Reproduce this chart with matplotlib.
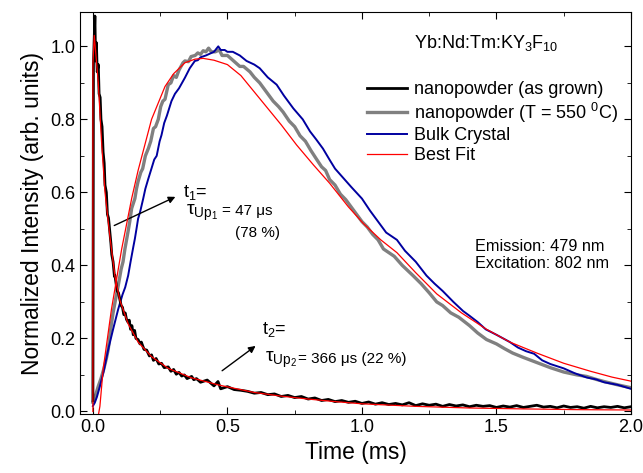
import matplotlib
matplotlib.use("Agg")
import matplotlib.pyplot as plt
from matplotlib.ticker import MultipleLocator

plt.rcParams['font.family'] = ['Liberation Sans', 'DejaVu Sans']
plt.rcParams['mathtext.fontset'] = 'custom'
plt.rcParams['mathtext.rm'] = 'Liberation Sans'
plt.rcParams['mathtext.it'] = 'Liberation Sans:italic'

# nanopowder (as grown)
t_grown = [0.0, 0.002, 0.0074, 0.010, 0.013, 0.016, 0.020, 0.023, 0.027, 0.030, 0.034,
           0.038, 0.042, 0.045, 0.050, 0.054, 0.058, 0.063, 0.067, 0.070, 0.075, 0.080,
           0.082, 0.086, 0.090, 0.095, 0.100, 0.105, 0.110, 0.115, 0.120, 0.125, 0.131,
           0.135, 0.140, 0.145, 0.150, 0.155, 0.160, 0.168, 0.175, 0.180, 0.190, 0.200,
           0.210, 0.218, 0.225, 0.235, 0.245, 0.255, 0.265, 0.280, 0.290, 0.300, 0.310,
           0.320, 0.330, 0.340, 0.350, 0.367, 0.375, 0.385,
           0.400, 0.425, 0.450, 0.465, 0.475, 0.500, 0.525, 0.550, 0.575, 0.600, 0.625,
           0.650, 0.675, 0.700, 0.725, 0.750, 0.775, 0.800, 0.825, 0.850, 0.875, 0.900,
           0.925, 0.950, 0.975, 1.000, 1.025, 1.050, 1.075, 1.100, 1.125, 1.150, 1.175,
           1.200, 1.225, 1.250, 1.275, 1.300, 1.325, 1.350, 1.375, 1.400, 1.425, 1.450,
           1.475, 1.500, 1.525, 1.550, 1.575, 1.600, 1.625, 1.650, 1.675, 1.700, 1.725,
           1.750, 1.775, 1.800, 1.825, 1.850, 1.875, 1.900, 1.925, 1.950, 1.975, 2.000]
y_grown = [0.03, 0.95, 1.083, 0.96, 1.01, 0.93, 0.95, 0.87, 0.86, 0.80, 0.78,
           0.71, 0.68, 0.62, 0.60, 0.54, 0.53, 0.49, 0.46, 0.43, 0.41, 0.37,
           0.372, 0.35, 0.33, 0.325, 0.308, 0.29, 0.285, 0.265, 0.27, 0.252, 0.244,
           0.25, 0.225, 0.235, 0.21, 0.222, 0.20, 0.197, 0.185, 0.19, 0.17, 0.168,
           0.152, 0.155, 0.14, 0.145, 0.13, 0.132, 0.12, 0.122, 0.11, 0.115, 0.102,
           0.107, 0.097, 0.10, 0.09, 0.096, 0.087, 0.09,
           0.080, 0.086, 0.070, 0.082, 0.062, 0.068, 0.060, 0.058, 0.055, 0.050, 0.052,
           0.046, 0.048, 0.041, 0.044, 0.038, 0.041, 0.034, 0.037, 0.030, 0.033, 0.027,
           0.030, 0.025, 0.028, 0.022, 0.026, 0.020, 0.024, 0.019, 0.022, 0.018, 0.024,
           0.016, 0.021, 0.017, 0.020, 0.014, 0.019, 0.015, 0.018, 0.013, 0.017, 0.014,
           0.016, 0.011, 0.015, 0.012, 0.016, 0.011, 0.014, 0.017, 0.012, 0.014, 0.010,
           0.015, 0.011, 0.013, 0.009, 0.014, 0.010, 0.013, 0.011, 0.014, 0.010, 0.013]

# nanopowder (T = 550 C)
t_550 = [0.0, 0.01, 0.02, 0.03, 0.04, 0.05, 0.057, 0.065, 0.075, 0.085, 0.094, 0.105,
         0.112, 0.119, 0.13, 0.137, 0.144, 0.156, 0.162, 0.168, 0.178, 0.185, 0.195, 0.206,
         0.215, 0.225, 0.233, 0.243, 0.252, 0.26, 0.268, 0.28, 0.29, 0.30, 0.31, 0.32,
         0.335, 0.342, 0.355, 0.365, 0.38, 0.39, 0.40, 0.41, 0.42, 0.43, 0.44, 0.455,
         0.47, 0.48, 0.50, 0.52, 0.546, 0.56, 0.584, 0.60, 0.62, 0.64, 0.67, 0.69, 0.707,
         0.73, 0.75, 0.77, 0.79, 0.81, 0.832, 0.85, 0.865, 0.88, 0.90, 0.92, 0.94, 0.96,
         0.98, 1.0, 1.02, 1.04, 1.06, 1.08, 1.10, 1.12, 1.15, 1.19, 1.22, 1.25, 1.278,
         1.30, 1.33, 1.36, 1.40, 1.43, 1.463, 1.50, 1.53, 1.56, 1.60, 1.65, 1.70, 1.75,
         1.80, 1.835, 1.87, 1.90, 1.95, 2.0]
y_550 = [0.025, 0.045, 0.069, 0.09, 0.115, 0.145, 0.17, 0.22, 0.27, 0.31, 0.344, 0.39,
         0.41, 0.445, 0.49, 0.52, 0.556, 0.583, 0.61, 0.63, 0.655, 0.665, 0.70, 0.72,
         0.74, 0.775, 0.78, 0.80, 0.835, 0.85, 0.855, 0.895, 0.90, 0.92, 0.915, 0.935,
         0.955, 0.96, 0.958, 0.972, 0.975, 0.982, 0.978, 0.988, 0.985, 0.995, 0.985, 0.985,
         0.99, 0.975, 0.975, 0.962, 0.945, 0.945, 0.93, 0.915, 0.90, 0.88, 0.85, 0.835, 0.82,
         0.795, 0.78, 0.755, 0.74, 0.715, 0.69, 0.67, 0.66, 0.635, 0.62, 0.595, 0.58, 0.56,
         0.54, 0.52, 0.505, 0.485, 0.47, 0.445, 0.435, 0.425, 0.40, 0.372, 0.35, 0.325, 0.30,
         0.29, 0.27, 0.258, 0.235, 0.215, 0.197, 0.185, 0.172, 0.16, 0.148, 0.134, 0.12, 0.108,
         0.10, 0.096, 0.088, 0.082, 0.073, 0.065]

# Bulk Crystal
t_bulk = [0.0, 0.007, 0.015, 0.026, 0.04, 0.057, 0.075, 0.094, 0.11, 0.12, 0.131, 0.14,
          0.15, 0.156, 0.162, 0.168, 0.175, 0.187, 0.195, 0.205, 0.218, 0.228, 0.237, 0.248,
          0.255, 0.265, 0.275, 0.292, 0.305, 0.32, 0.342, 0.36, 0.379, 0.39, 0.40, 0.42,
          0.435, 0.45, 0.466, 0.475, 0.49, 0.50, 0.52, 0.546, 0.571, 0.60, 0.62, 0.65,
          0.683, 0.71, 0.745, 0.78, 0.807, 0.83, 0.855, 0.88, 0.90, 0.93, 0.96, 1.0, 1.03,
          1.06, 1.09, 1.13, 1.16, 1.2, 1.24, 1.27, 1.3, 1.34, 1.376, 1.4, 1.43, 1.46, 1.5,
          1.55, 1.58, 1.61, 1.64, 1.67, 1.7, 1.75, 1.79, 1.835, 1.87, 1.9, 1.95, 2.0]
y_bulk = [0.015, 0.024, 0.04, 0.069, 0.11, 0.17, 0.225, 0.28, 0.32, 0.34, 0.372, 0.41,
          0.45, 0.473, 0.50, 0.528, 0.545, 0.583, 0.61, 0.635, 0.666, 0.69, 0.70, 0.74,
          0.757, 0.79, 0.81, 0.85, 0.87, 0.885, 0.914, 0.94, 0.96, 0.962, 0.97, 0.975,
          0.98, 0.985, 1.0, 0.99, 0.99, 0.985, 0.985, 0.975, 0.96, 0.95, 0.94, 0.915,
          0.895, 0.865, 0.83, 0.80, 0.767, 0.745, 0.72, 0.689, 0.665, 0.64, 0.615, 0.583, 0.55,
          0.52, 0.49, 0.47, 0.44, 0.41, 0.372, 0.35, 0.33, 0.30, 0.275, 0.262, 0.245, 0.225, 0.21,
          0.19, 0.175, 0.165, 0.158, 0.14, 0.13, 0.118, 0.105, 0.093, 0.088, 0.08, 0.073, 0.062]

# Best fit, decay of as-grown nanopowder
t_fit1 = [0.0, 0.0, 0.005, 0.02, 0.032, 0.045, 0.063, 0.082, 0.10, 0.131, 0.168, 0.218,
          0.28, 0.367, 0.47, 0.60, 0.70, 0.80, 0.90, 1.00, 1.20, 1.40, 1.60, 1.80, 2.00]
y_fit1 = [0.0, 0.95, 1.03, 0.90, 0.74, 0.60, 0.48, 0.37, 0.305, 0.24, 0.19, 0.15,
          0.118, 0.092, 0.072, 0.052, 0.042, 0.034, 0.027, 0.021, 0.014, 0.0095, 0.007, 0.005, 0.004]

# Best fit, rise and decay
t_fit2 = [0.018, 0.026, 0.038, 0.069, 0.107, 0.144, 0.168, 0.218, 0.268, 0.30, 0.342,
          0.38, 0.41, 0.45, 0.50, 0.55, 0.60, 0.65, 0.70, 0.757, 0.82, 0.88, 0.95, 1.005,
          1.07, 1.13, 1.20, 1.278, 1.37, 1.463, 1.55, 1.65, 1.75, 1.85, 1.93, 2.00]
y_fit2 = [-0.02, 0.014, 0.115, 0.28, 0.445, 0.583, 0.66, 0.80, 0.89, 0.925, 0.955,
          0.965, 0.967, 0.962, 0.95, 0.92, 0.875, 0.83, 0.785, 0.73, 0.675, 0.625, 0.56, 0.515,
          0.47, 0.435, 0.38, 0.322, 0.27, 0.225, 0.19, 0.16, 0.132, 0.11, 0.094, 0.083]

fig = plt.figure(figsize=(6.43, 4.73), dpi=100)
ax = fig.add_axes([0.1244, 0.1247, 0.8569, 0.8499])

ax.plot(t_grown, y_grown, color='black', lw=2.0, label='nanopowder (as grown)', zorder=3)
ax.plot(t_550, y_550, color='#808080', lw=2.4, label='nanopowder (T = 550 $^{0}$C)', zorder=2)
ax.plot(t_bulk, y_bulk, color='#0000a0', lw=1.4, label='Bulk Crystal', zorder=2)
ax.plot(t_fit1, y_fit1, color='red', lw=0.9, label='Best Fit', zorder=4)
ax.plot(t_fit2, y_fit2, color='red', lw=0.9, zorder=4)

ax.set_xlim(-0.048, 2.0)
ax.set_ylim(-0.007, 1.094)
ax.xaxis.set_major_locator(MultipleLocator(0.5))
ax.xaxis.set_minor_locator(MultipleLocator(0.25))
ax.yaxis.set_major_locator(MultipleLocator(0.2))
ax.yaxis.set_minor_locator(MultipleLocator(0.1))
ax.tick_params(which='both', direction='in', top=True, right=True, labelsize=13)
ax.tick_params(which='major', length=5)
ax.tick_params(which='minor', length=3)
ax.set_xlabel('Time (ms)', fontsize=16.5)
ax.set_ylabel('Normalized Intensity (arb. units)', fontsize=16.5)

ax.text(0.737, 0.922, 'Yb:Nd:Tm:KY$_3$F$_{10}$', transform=ax.transAxes, fontsize=13,
        ha='center', va='center')
ax.legend(loc='upper right', bbox_to_anchor=(1.0, 0.86), frameon=False, fontsize=13,
          handlelength=2.2, handletextpad=0.4, labelspacing=0.15, borderaxespad=0.3)

ax.text(0.717, 0.435, 'Emission: 479 nm\nExcitation: 802 nm', transform=ax.transAxes,
        fontsize=11.7, ha='left', va='top', linespacing=1.15)

# annotations
ax.annotate('', xy=(0.316, 0.591), xytext=(0.07, 0.506),
            arrowprops=dict(arrowstyle='-|>', color='black', lw=1, mutation_scale=10))
ax.text(0.335, 0.6, 't$_1$=', fontsize=13, ha='left', va='center')
ax.text(0.345, 0.545, '\u03c4$_{\\rm Up_1}$', fontsize=14, ha='left', va='center')
ax.text(0.48, 0.55, '= 47 \u03bcs', fontsize=11, ha='left', va='center')
ax.text(0.53, 0.49, '(78 %)', fontsize=11, ha='left', va='center')

ax.annotate('', xy=(0.613, 0.184), xytext=(0.472, 0.107),
            arrowprops=dict(arrowstyle='-|>', color='black', lw=1, mutation_scale=10))
ax.text(0.63, 0.225, 't$_2$=', fontsize=13, ha='left', va='center')
ax.text(0.64, 0.14, '\u03c4$_{\\rm Up_2}$', fontsize=14, ha='left', va='center')
ax.text(0.762, 0.145, '= 366 \u03bcs (22 %)', fontsize=11, ha='left', va='center')

fig.savefig('out.png', dpi=100)
